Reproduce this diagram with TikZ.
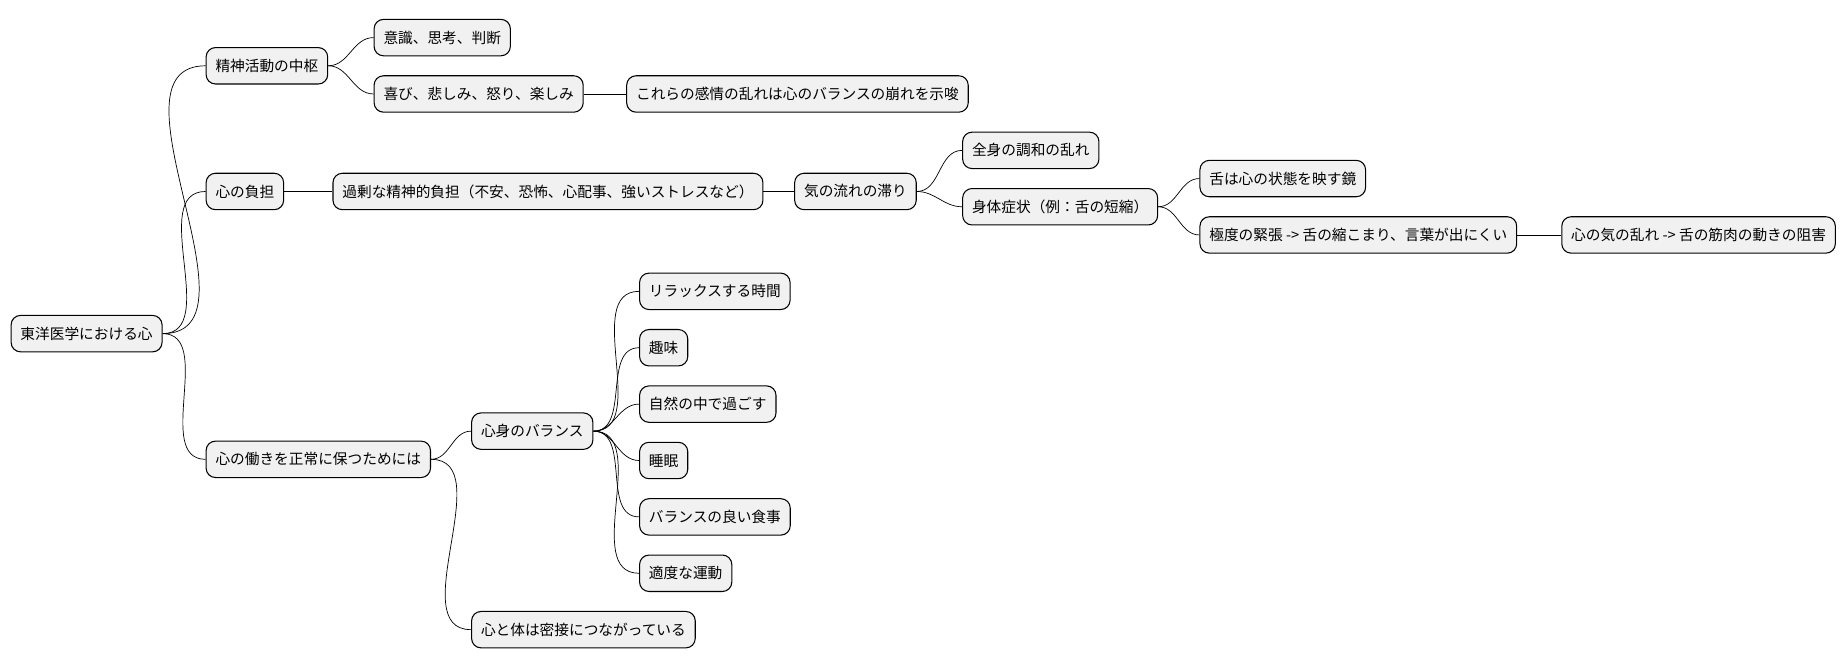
\documentclass[tikz,border=0pt]{standalone}
\usepackage{fontspec}
\setmainfont{Noto Sans CJK JP}
\definecolor{boxgray}{RGB}{241,241,241}
\begin{document}
\begin{tikzpicture}[x=1pt,y=-1pt,
        topic/.style={shape=rectangle, rounded corners=8pt, fill=boxgray, draw=black, line width=0.9pt,
          anchor=west, minimum height=31pt, inner xsep=8pt, font=\fontsize{12.5}{14}\selectfont},
        branch/.style={line width=0.6pt}]
        \useasboundingbox (0,0) rectangle (1568,569);
        % root and first level
        \node[topic] (root) at (9,284) {東洋医学における心};
        \node[topic] (seishin) at (175,56) {精神活動の中枢};
        \node[topic] (futan) at (175,163) {心の負担};
        \node[topic] (seijo) at (175,391) {心の働きを正常に保つためには};
        % mental activity
        \node[topic] (ishiki) at (318,32) {意識、思考、判断};
        \node[topic] (kanjo) at (318,80) {喜び、悲しみ、怒り、楽しみ};
        \node[topic] (midare) at (533,80) {これらの感情の乱れは心のバランスの崩れを示唆};
        % burden
        \node[topic] (kajo) at (283,163) {過剰な精神的負担（不安、恐怖、心配事、強いストレスなど）};
        \node[topic] (ki) at (676,163) {気の流れの滞り};
        \node[topic] (chowa) at (819,128) {全身の調和の乱れ};
        \node[topic] (shojo) at (819,176) {身体症状（例：舌の短縮）};
        \node[topic] (kagami) at (1021,152) {舌は心の状態を映す鏡};
        \node[topic] (kincho) at (1021,200) {極度の緊張 -> 舌の縮こまり、言葉が出にくい};
        \node[topic] (kinniku) at (1329,200) {心の気の乱れ -> 舌の筋肉の動きの阻害};
        % keeping balance
        \node[topic] (shinshin) at (401,367) {心身のバランス};
        \node[topic] (mitsusetsu) at (401,536) {心と体は密接につながっている};
        \foreach \name/\y/\txt in {relax/248/リラックスする時間, shumi/296/趣味, shizen/344/自然の中で過ごす,
            suimin/392/睡眠, shokuji/440/バランスの良い食事, undo/488/適度な運動} {
          \node[topic] (\name) at (544,\y) {\txt};
          \draw[branch] (shinshin.east) to[out=0,in=180] (\name.west);
        }
        % connectors
        \foreach \a/\b in {root/seishin, root/futan, root/seijo, seishin/ishiki, seishin/kanjo,
            kanjo/midare, futan/kajo, kajo/ki, ki/chowa, ki/shojo, shojo/kagami, shojo/kincho,
            kincho/kinniku, seijo/shinshin, seijo/mitsusetsu} {
          \draw[branch] (\a.east) to[out=0,in=180] (\b.west);
        }
\end{tikzpicture}
\end{document}
